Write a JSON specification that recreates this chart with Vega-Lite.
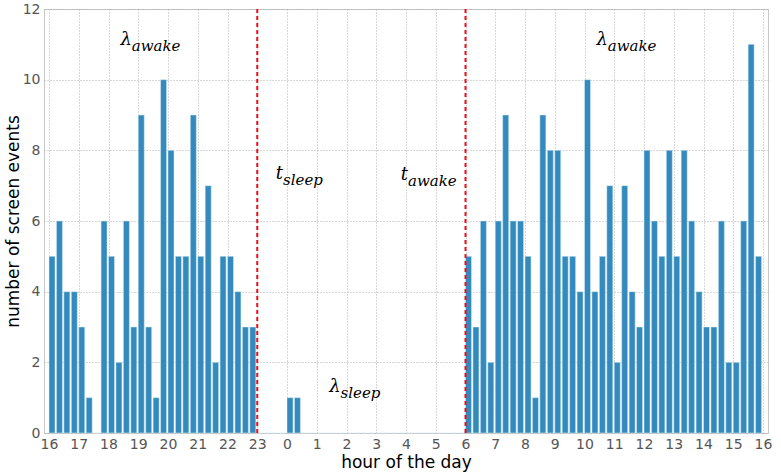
{
  "$schema": "https://vega.github.io/schema/vega-lite/v6.json",
  "width": 724,
  "height": 424,
  "autosize": "none",
  "padding": {"left": 44, "top": 9, "right": 13, "bottom": 43},
  "config": {
    "view": {"stroke": "#c8c8c8", "strokeWidth": 1},
    "font": "DejaVu Sans"
  },
  "datasets": {
    "bars": [
      {"t":"2024-01-01T16:00","n":5},{"t":"2024-01-01T16:15","n":6},{"t":"2024-01-01T16:30","n":4},{"t":"2024-01-01T16:45","n":4},
      {"t":"2024-01-01T17:00","n":3},{"t":"2024-01-01T17:15","n":1},{"t":"2024-01-01T17:30","n":0},{"t":"2024-01-01T17:45","n":6},
      {"t":"2024-01-01T18:00","n":5},{"t":"2024-01-01T18:15","n":2},{"t":"2024-01-01T18:30","n":6},{"t":"2024-01-01T18:45","n":3},
      {"t":"2024-01-01T19:00","n":9},{"t":"2024-01-01T19:15","n":3},{"t":"2024-01-01T19:30","n":1},{"t":"2024-01-01T19:45","n":10},
      {"t":"2024-01-01T20:00","n":8},{"t":"2024-01-01T20:15","n":5},{"t":"2024-01-01T20:30","n":5},{"t":"2024-01-01T20:45","n":9},
      {"t":"2024-01-01T21:00","n":5},{"t":"2024-01-01T21:15","n":7},{"t":"2024-01-01T21:30","n":2},{"t":"2024-01-01T21:45","n":5},
      {"t":"2024-01-01T22:00","n":5},{"t":"2024-01-01T22:15","n":4},{"t":"2024-01-01T22:30","n":3},{"t":"2024-01-01T22:45","n":3},
      {"t":"2024-01-01T23:00","n":0},{"t":"2024-01-01T23:15","n":0},{"t":"2024-01-01T23:30","n":0},{"t":"2024-01-01T23:45","n":0},
      {"t":"2024-01-02T00:00","n":1},{"t":"2024-01-02T00:15","n":1},{"t":"2024-01-02T00:30","n":0},{"t":"2024-01-02T00:45","n":0},
      {"t":"2024-01-02T01:00","n":0},{"t":"2024-01-02T01:15","n":0},{"t":"2024-01-02T01:30","n":0},{"t":"2024-01-02T01:45","n":0},
      {"t":"2024-01-02T02:00","n":0},{"t":"2024-01-02T02:15","n":0},{"t":"2024-01-02T02:30","n":0},{"t":"2024-01-02T02:45","n":0},
      {"t":"2024-01-02T03:00","n":0},{"t":"2024-01-02T03:15","n":0},{"t":"2024-01-02T03:30","n":0},{"t":"2024-01-02T03:45","n":0},
      {"t":"2024-01-02T04:00","n":0},{"t":"2024-01-02T04:15","n":0},{"t":"2024-01-02T04:30","n":0},{"t":"2024-01-02T04:45","n":0},
      {"t":"2024-01-02T05:00","n":0},{"t":"2024-01-02T05:15","n":0},{"t":"2024-01-02T05:30","n":0},{"t":"2024-01-02T05:45","n":0},
      {"t":"2024-01-02T06:00","n":5},{"t":"2024-01-02T06:15","n":3},{"t":"2024-01-02T06:30","n":6},{"t":"2024-01-02T06:45","n":2},
      {"t":"2024-01-02T07:00","n":6},{"t":"2024-01-02T07:15","n":9},{"t":"2024-01-02T07:30","n":6},{"t":"2024-01-02T07:45","n":6},
      {"t":"2024-01-02T08:00","n":5},{"t":"2024-01-02T08:15","n":1},{"t":"2024-01-02T08:30","n":9},{"t":"2024-01-02T08:45","n":8},
      {"t":"2024-01-02T09:00","n":8},{"t":"2024-01-02T09:15","n":5},{"t":"2024-01-02T09:30","n":5},{"t":"2024-01-02T09:45","n":4},
      {"t":"2024-01-02T10:00","n":10},{"t":"2024-01-02T10:15","n":4},{"t":"2024-01-02T10:30","n":5},{"t":"2024-01-02T10:45","n":7},
      {"t":"2024-01-02T11:00","n":2},{"t":"2024-01-02T11:15","n":7},{"t":"2024-01-02T11:30","n":4},{"t":"2024-01-02T11:45","n":3},
      {"t":"2024-01-02T12:00","n":8},{"t":"2024-01-02T12:15","n":6},{"t":"2024-01-02T12:30","n":5},{"t":"2024-01-02T12:45","n":8},
      {"t":"2024-01-02T13:00","n":5},{"t":"2024-01-02T13:15","n":8},{"t":"2024-01-02T13:30","n":6},{"t":"2024-01-02T13:45","n":4},
      {"t":"2024-01-02T14:00","n":3},{"t":"2024-01-02T14:15","n":3},{"t":"2024-01-02T14:30","n":6},{"t":"2024-01-02T14:45","n":2},
      {"t":"2024-01-02T15:00","n":2},{"t":"2024-01-02T15:15","n":6},{"t":"2024-01-02T15:30","n":11},{"t":"2024-01-02T15:45","n":5}
    ],
    "rules": [
      {"t":"2024-01-01T23:00"},
      {"t":"2024-01-02T06:00"}
    ],
    "notes": [
      {"t":"2024-01-01T18:47","y":10.98,"main":"λ","sub":"awake"},
      {"t":"2024-01-02T10:47","y":10.98,"main":"λ","sub":"awake"},
      {"t":"2024-01-01T23:52","y":7.19,"main":"t","sub":"sleep"},
      {"t":"2024-01-02T04:04","y":7.17,"main":"t","sub":"awake"},
      {"t":"2024-01-02T01:48","y":1.16,"main":"λ","sub":"sleep"}
    ]
  },
  "layer": [
    {
      "data": {"name": "bars"},
      "mark": {"type": "bar", "width": 6, "xOffset": 3, "color": "#348ABD", "stroke": "#d6eef8", "strokeWidth": 0.5},
      "encoding": {
        "x": {
          "field": "t", "type": "temporal",
          "scale": {"domain": [{"year":2024,"month":1,"date":1,"hours":16},{"year":2024,"month":1,"date":2,"hours":16}], "nice": false},
          "axis": {
            "title": "hour of the day",
            "format": "%-H",
            "tickCount": 24,
            "labelFontSize": 14, "labelColor": "#555555", "labelPadding": 4,
            "labelFlush": false, "labelOverlap": false,
            "ticks": false, "domain": false,
            "grid": true, "gridColor": "#b0b0b0", "gridDash": [1, 2], "gridWidth": 1,
            "titleFontSize": 17, "titleFontWeight": "normal", "titleColor": "#000000", "titlePadding": 3
          }
        },
        "y": {
          "field": "n", "type": "quantitative",
          "scale": {"domain": [0, 12], "nice": false},
          "axis": {
            "title": "number of screen events",
            "values": [0, 2, 4, 6, 8, 10, 12],
            "labelFontSize": 14, "labelColor": "#555555", "labelPadding": 4,
            "labelFlush": false,
            "ticks": false, "domain": false,
            "grid": true, "gridColor": "#b0b0b0", "gridDash": [1, 2], "gridWidth": 1,
            "titleFontSize": 17, "titleFontWeight": "normal", "titleColor": "#000000",
            "titleX": -31, "titleY": 212, "titleAngle": -90, "titleAlign": "center", "titleBaseline": "middle"
          }
        }
      }
    },
    {
      "data": {"name": "rules"},
      "mark": {"type": "rule", "color": "#e8101c", "strokeWidth": 2, "strokeDash": [4, 3]},
      "encoding": {
        "x": {"field": "t", "type": "temporal"}
      }
    },
    {
      "data": {"name": "notes"},
      "mark": {"type": "text", "align": "right", "baseline": "alphabetic", "font": "DejaVu Serif", "fontStyle": "italic", "fontSize": 18, "color": "#000000"},
      "encoding": {
        "x": {"field": "t", "type": "temporal"},
        "y": {"field": "y", "type": "quantitative"},
        "text": {"field": "main"}
      }
    },
    {
      "data": {"name": "notes"},
      "mark": {"type": "text", "align": "left", "baseline": "alphabetic", "dy": 6, "font": "DejaVu Serif", "fontStyle": "italic", "fontSize": 15, "color": "#000000"},
      "encoding": {
        "x": {"field": "t", "type": "temporal"},
        "y": {"field": "y", "type": "quantitative"},
        "text": {"field": "sub"}
      }
    }
  ]
}
